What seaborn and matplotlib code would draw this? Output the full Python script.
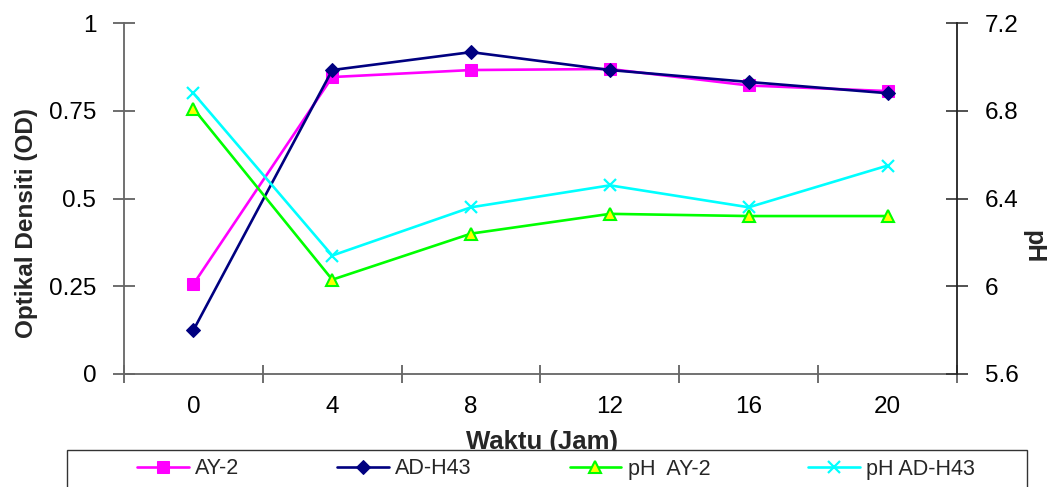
import numpy as np
import pandas as pd
import matplotlib
matplotlib.use("Agg")
import matplotlib.pyplot as plt
import seaborn as sns
from matplotlib.ticker import FixedLocator
from matplotlib.patches import Rectangle

# ---- data ----
waktu = ["0", "4", "8", "12", "16", "20"]
od_ay2 = [0.256, 0.846, 0.866, 0.869, 0.822, 0.806]
od_adh43 = [0.125, 0.866, 0.917, 0.866, 0.832, 0.800]
ph_ay2 = [6.81, 6.03, 6.24, 6.33, 6.32, 6.32]
ph_adh43 = [6.88, 6.14, 6.36, 6.46, 6.36, 6.55]

sns.set_theme(style="white")
plt.rcParams["font.family"] = ["Liberation Sans", "DejaVu Sans"]

xpos = np.arange(len(waktu))
df = pd.DataFrame({"x": xpos, "AY-2": od_ay2, "AD-H43": od_adh43,
                   "pH  AY-2": ph_ay2, "pH AD-H43": ph_adh43})

fig = plt.figure(figsize=(10.5, 4.87), dpi=100)
ax = fig.add_axes([124/1050, 1-374/487, 833/1050, 351/487])
ax2 = ax.twinx()

lw = 1.9
sns.lineplot(data=df, x="x", y="AY-2", ax=ax, color="#FF00FF", marker="s",
             markersize=9, markeredgecolor="#FF00FF", linewidth=lw, label="AY-2")
sns.lineplot(data=df, x="x", y="AD-H43", ax=ax, color="#000080", marker="D",
             markersize=7, markeredgecolor="#000080", linewidth=lw, label="AD-H43")
sns.lineplot(data=df, x="x", y="pH  AY-2", ax=ax2, color="#00FF00", marker="^",
             markersize=9, markerfacecolor="#FFFF00", markeredgecolor="#00FF00",
             markeredgewidth=1.5, linewidth=lw, label="pH  AY-2")
sns.lineplot(data=df, x="x", y="pH AD-H43", ax=ax2, color="#00FFFF", marker="x",
             markersize=9, markeredgecolor="#00FFFF", markeredgewidth=1.6,
             linewidth=lw, label="pH AD-H43")

ax.set_xlim(-0.5, len(waktu) - 0.5)
ax.set_ylim(0, 1)
ax2.set_ylim(5.6, 7.2)

# y ticks
ax.set_yticks([0, 0.25, 0.5, 0.75, 1])
ax.set_yticklabels(["0", "0.25", "0.5", "0.75", "1"])
ax2.set_yticks([5.6, 6.0, 6.4, 6.8, 7.2])
ax2.set_yticklabels(["5.6", "6", "6.4", "6.8", "7.2"])

# x ticks: labels at categories, tick marks at boundaries
ax.set_xticks(xpos)
ax.set_xticklabels(waktu)
ax.xaxis.set_minor_locator(FixedLocator(np.arange(-0.5, len(waktu), 1.0)))
ax.tick_params(axis="x", which="major", length=0, pad=16, labelsize=17.5, colors="black")
ax.tick_params(axis="x", which="minor", length=13, direction="inout", width=1.2,
               color="#555555", bottom=True)
ax.tick_params(axis="y", which="major", length=16, direction="inout", width=1.2,
               color="#555555", pad=12, labelsize=17.5, labelcolor="black", left=True)
ax2.tick_params(axis="y", which="major", length=16, direction="inout", width=1.2,
                color="#333333", pad=12, labelsize=17.5, labelcolor="black", right=True)

for a in (ax, ax2):
    a.spines["top"].set_visible(False)
    a.grid(False)
ax.spines["right"].set_visible(False)
ax.spines["left"].set_color("#666666")
ax.spines["bottom"].set_color("#666666")
ax.spines["left"].set_linewidth(1.3)
ax.spines["bottom"].set_linewidth(1.3)
ax2.spines["left"].set_visible(False)
ax2.spines["bottom"].set_visible(False)
ax2.spines["right"].set_color("#222222")
ax2.spines["right"].set_linewidth(1.3)

ax.set_xlabel("Waktu (Jam)", fontsize=18.5, fontweight="bold")
ax.xaxis.set_label_coords(0.502, -0.1595)
ax.xaxis.label.set_va("top")

ax.set_ylabel("Optikal Densiti (OD)", fontsize=17.5, fontweight="bold")
ax.yaxis.set_label_coords(-0.1176, 0.430)
ax.yaxis.label.set_va("center")
ax.yaxis.label.set_ha("center")

ax2.set_ylabel("pH", fontsize=18, fontweight="bold", rotation=-90)
ax2.yaxis.set_label_coords(1.0912, 0.362)
ax2.yaxis.label.set_va("center")
ax2.yaxis.label.set_ha("center")

# legend frame (extends below the figure edge, like the reference)
frame = Rectangle((67/1050, -0.05), (1027-67)/1050, (1-450/487) + 0.05,
                  transform=fig.transFigure, facecolor="white",
                  edgecolor="#333333", linewidth=1.0, zorder=4)
fig.patches.append(frame)

h1, l1 = ax.get_legend_handles_labels()
h2, l2 = ax2.get_legend_handles_labels()
for a in (ax, ax2):
    if a.get_legend() is not None:
        a.get_legend().remove()
leg = fig.legend(h1 + h2, l1 + l2, loc="center left", ncol=4,
                 bbox_to_anchor=(137/1050, 1-469/487, (975-137)/1050, 0.0),
                 mode="expand", fontsize=15.5, frameon=False,
                 handlelength=2.4, handletextpad=0.3, borderpad=0,
                 borderaxespad=0)
leg.set_zorder(5)

fig.savefig("out.png", dpi=100)
